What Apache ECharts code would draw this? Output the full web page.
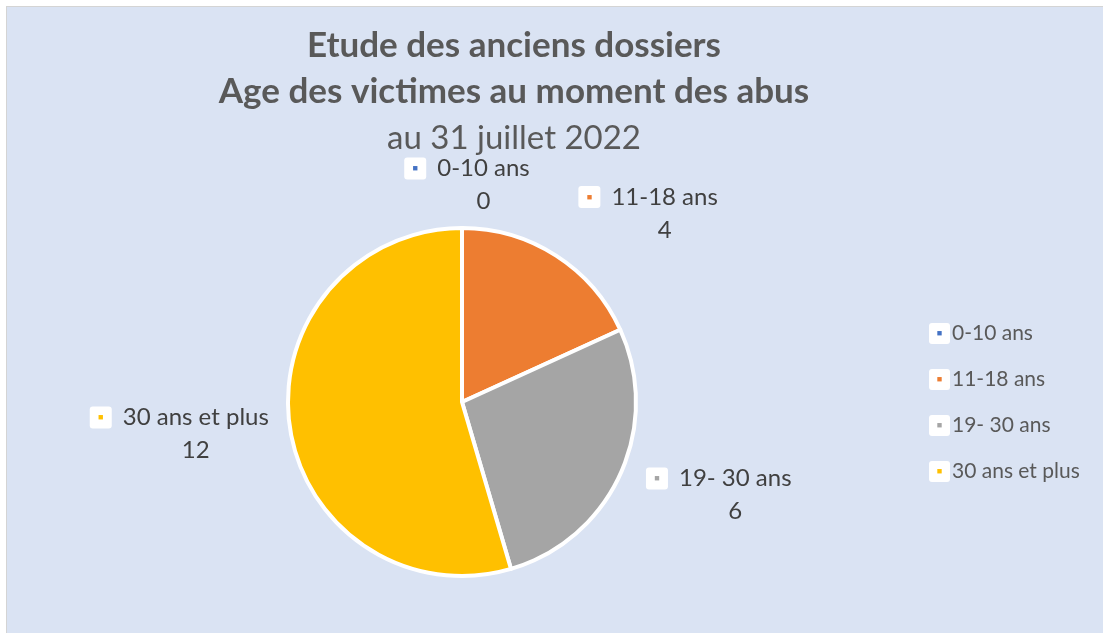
<!DOCTYPE html>
<html>
<head>
<meta charset="utf-8">
<script src="https://cdn.jsdelivr.net/npm/echarts@6/dist/echarts.min.js"></script>
<style>
  html, body { margin: 0; padding: 0; background: #ffffff; }
  #bg { position: absolute; left: 6px; top: 6px; width: 1100px; height: 630px;
        background: #DAE3F3; border-left: 1px solid #d4d4d4; border-top: 1px solid #d4d4d4; }
  #main { position: absolute; left: 0; top: 0; width: 1103px; height: 633px; }
</style>
</head>
<body>
<div id="bg"></div>
<div id="main"></div>
<script>
const categories = ['0-10 ans', '11-18 ans', '19- 30 ans', '30 ans et plus'];
const values = [0, 4, 6, 12];
const colors = ['#4472C4', '#ED7D31', '#A5A5A5', '#FFC000'];

const fontFamily = 'Lato, "Open Sans", sans-serif';

// white rounded box with a small coloured square inside
function boxes(size) {
  const r = {};
  colors.forEach((c, i) => {
    r['k' + i] = {
      backgroundColor: '#ffffff', borderRadius: 3, width: size, height: size,
      align: 'center', verticalAlign: 'middle', color: c, fontSize: 9, lineHeight: size
    };
  });
  return r;
}

const chart = echarts.init(document.getElementById('main'));

const labelShift = [10, 10, -2, -6];

chart.setOption({
  backgroundColor: 'transparent',
  title: {
    left: 509,
    top: 18,
    textAlign: 'center',
    text: '{b|Etude des anciens dossiers}\n{b|Age des victimes au moment des abus}\n{n|au 31 juillet 2022}',
    textStyle: {
      rich: {
        b: { fontFamily, fontSize: 35, fontWeight: 'bold', color: '#595959', lineHeight: 46 },
        n: { fontFamily, fontSize: 33, fontWeight: 'normal', color: '#595959', lineHeight: 46 }
      }
    }
  },
  color: colors,
  legend: {
    orient: 'vertical',
    left: 918,
    top: 318,
    itemWidth: 0,
    itemHeight: 0,
    itemGap: 25,
    data: categories,
    formatter: name => '{k' + categories.indexOf(name) + '|■}{t|' + name + '}',
    textStyle: {
      rich: Object.assign(boxes(21), {
        t: { fontFamily, fontSize: 21, color: '#595959', padding: [0, 0, 0, 2] }
      })
    }
  },
  series: [{
    type: 'pie',
    center: [462, 402],
    radius: 174,
    startAngle: 90,
    clockwise: true,
    avoidLabelOverlap: false,
    itemStyle: { borderColor: '#ffffff', borderWidth: 4 },
    emphasis: { disabled: true },
    label: {
      show: true,
      position: 'outside',
      formatter: p => '{k' + p.dataIndex + '|■}{t|' + p.name + '}\n{s| }{v|' + p.value + '}',
      rich: Object.assign(boxes(22), {
        t: { fontFamily, fontSize: 24, color: '#404040', lineHeight: 33, padding: [0, 0, 0, 11] },
        s: { width: 33, fontSize: 24, lineHeight: 33 },
        v: { fontFamily, fontSize: 24, color: '#404040', lineHeight: 33 }
      })
    },
    labelLine: { show: false, length: 50, length2: 50 },
    labelLayout: p => ({ align: 'center', verticalAlign: 'middle', dx: labelShift[p.dataIndex] }),
    data: categories.map((c, i) => ({
      name: c,
      value: values[i],
      labelLine: i === 0 ? { length: 43, length2: 0 } : undefined
    }))
  }]
});
</script>
</body>
</html>
